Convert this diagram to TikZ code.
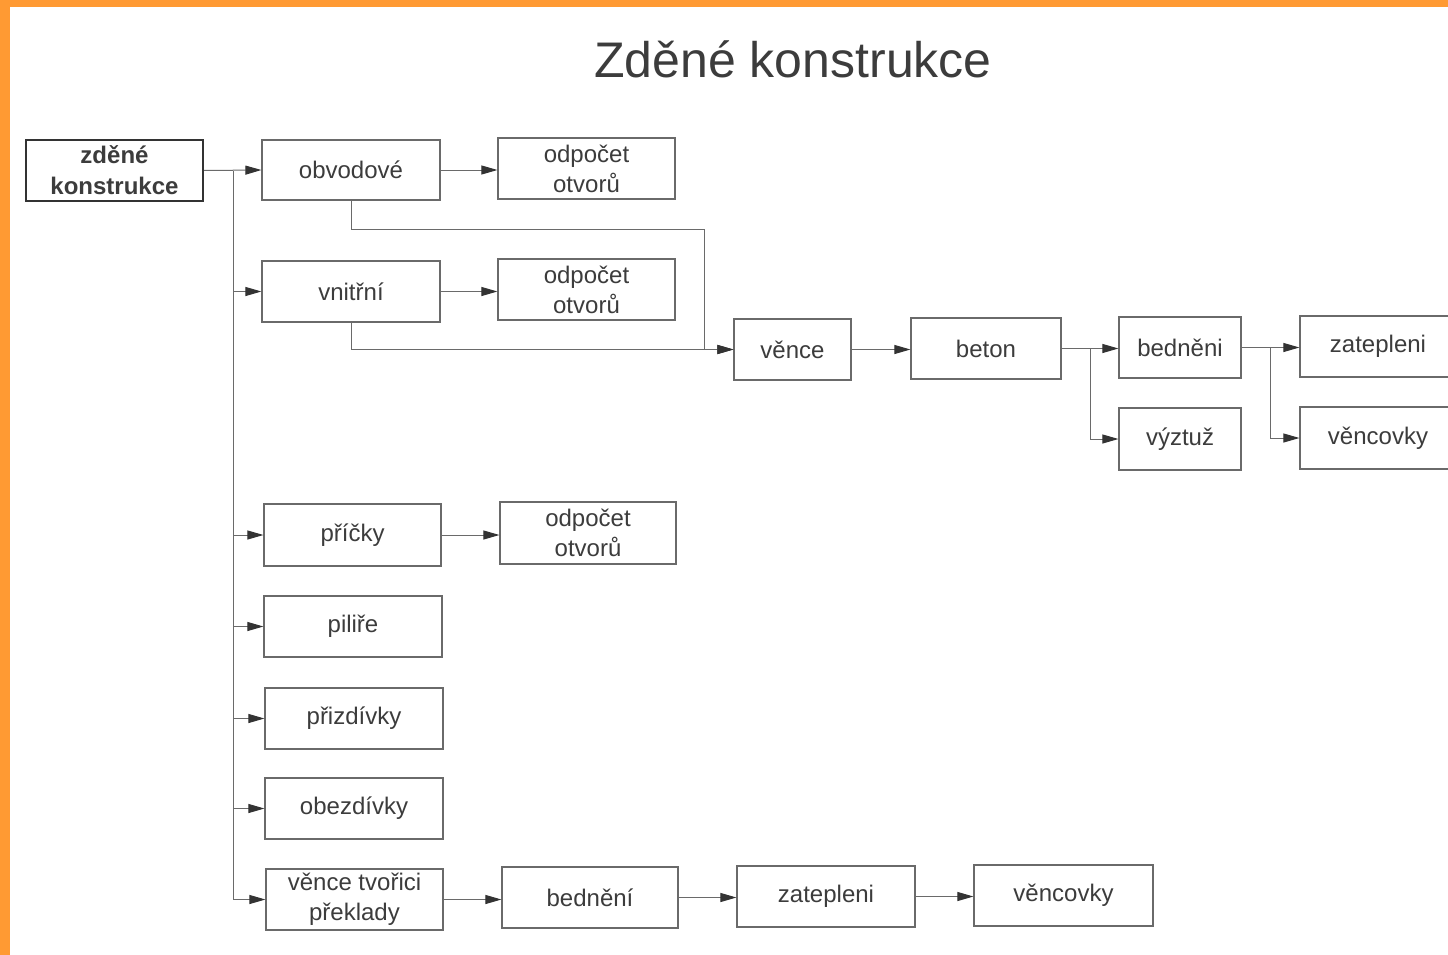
\documentclass[tikz,border=0pt]{standalone}
\usepackage{fontspec}
\setmainfont{Liberation Sans}
\usetikzlibrary{arrows.meta}
\definecolor{orangeframe}{HTML}{FF9A33}
\definecolor{txt}{HTML}{3C3C3C}
\definecolor{linec}{HTML}{6A6A6A}
\definecolor{tipc}{HTML}{333333}
\tikzset{
  box/.style={draw=linec, line width=1.2pt, text=txt, align=center,
    font=\fontsize{24}{30}\selectfont, inner sep=0pt},
  mainbox/.style={box, draw=tipc, line width=2.4pt, font=\bfseries\fontsize{24}{31}\selectfont},
  conn/.style={draw=linec, line width=1pt},
  arr/.style={conn, -{Triangle[length=16pt,width=9pt,color=tipc]}},
}
\begin{document}
\begin{tikzpicture}[x=1pt,y=-1pt]
\useasboundingbox (0,0) rectangle (1448,955);
\clip (0,0) rectangle (1448,955);
\fill[white] (0,0) rectangle (1448,955);
\fill[orangeframe] (0,0) rectangle (1448,7);
\fill[orangeframe] (0,0) rectangle (10,955);

\node[text=txt, font=\fontsize{50}{56}\selectfont] (title) at (793,59) {Zděné konstrukce};

% nodes
\node[mainbox, minimum width=177pt, minimum height=61pt] (main) at (114.5,170.5) {zděné\\konstrukce};
\node[box, minimum width=178pt, minimum height=60pt] (obv) at (351,170) {obvodové};
\node[box, minimum width=177pt, minimum height=61pt] (odp1) at (586.5,168.5) {odpočet\\otvorů};
\node[box, minimum width=178pt, minimum height=61pt] (vni) at (351,291.5) {vnitřní};
\node[box, minimum width=177pt, minimum height=61pt] (odp2) at (586.5,289.5) {odpočet\\otvorů};
\node[box, minimum width=117pt, minimum height=61pt] (vence) at (792.5,349.5) {věnce};
\node[box, minimum width=150pt, minimum height=61pt] (beton) at (986,348.5) {beton};
\node[box, minimum width=122pt, minimum height=61pt] (bedn) at (1180,347.5) {bedněni};
\node[box, minimum width=156pt, minimum height=61pt] (zat) at (1378,346.5) {zatepleni};
\node[box, minimum width=122pt, minimum height=62pt] (vyz) at (1180,439) {výztuž};
\node[box, minimum width=156pt, minimum height=62pt] (venc) at (1378,438) {věncovky};
\node[box, minimum width=177pt, minimum height=62pt] (pric) at (352.5,535) {příčky};
\node[box, minimum width=176pt, minimum height=62pt] (odp3) at (588,533) {odpočet\\otvorů};
\node[box, minimum width=178pt, minimum height=61pt] (pil) at (353,626.5) {piliře};
\node[box, minimum width=178pt, minimum height=61pt] (prizd) at (354,718.5) {přizdívky};
\node[box, minimum width=178pt, minimum height=61pt] (obezd) at (354,808.5) {obezdívky};
\node[box, minimum width=177pt, minimum height=61pt] (vtp) at (354.5,899.5) {věnce tvořici\\překlady};
\node[box, minimum width=176pt, minimum height=61pt] (bedn2) at (590,897.5) {bednění};
\node[box, minimum width=178pt, minimum height=61pt] (zat2) at (826,896.5) {zatepleni};
\node[box, minimum width=179pt, minimum height=61pt] (venc2) at (1063.5,895.5) {věncovky};

% junction coordinates
\coordinate (t) at (233,170.5);
\coordinate (c1) at (704,229);
\coordinate (s1) at (1090,348.5);
\coordinate (s2) at (1270,347);

% trunk and branches
\draw[arr] (main.east) -- (obv.west);
\draw[arr] (t) |- (vtp.west);
\draw[arr] (t |- vni.west) -- (vni.west);
\draw[arr] (t |- pric.west) -- (pric.west);
\draw[arr] (t |- pil.west) -- (pil.west);
\draw[arr] (t |- prizd.west) -- (prizd.west);
\draw[arr] (t |- obezd.west) -- (obezd.west);

% second column
\draw[arr] (obv.east) -- (obv.east -| odp1.west);
\draw[arr] (vni.east) -- (vni.east -| odp2.west);
\draw[arr] (pric.east) -- (pric.east -| odp3.west);

% to věnce
\draw[conn] (obv.south) |- (c1);
\draw[arr] (c1) |- (vence.west);
\draw[arr] (vni.south) |- (vence.west);

\draw[arr] (vence.east) -- (vence.east -| beton.west);
\draw[arr] (beton.east) -- (beton.east -| bedn.west);
\draw[arr] (s1) |- (vyz.west);
\draw[arr] (bedn.east) -- (bedn.east -| zat.west);
\draw[arr] (s2) |- (venc.west);

% bottom row
\draw[arr] (vtp.east) -- (vtp.east -| bedn2.west);
\draw[arr] (bedn2.east) -- (bedn2.east -| zat2.west);
\draw[arr] (zat2.east) -- (zat2.east -| venc2.west);
\end{tikzpicture}
\end{document}
